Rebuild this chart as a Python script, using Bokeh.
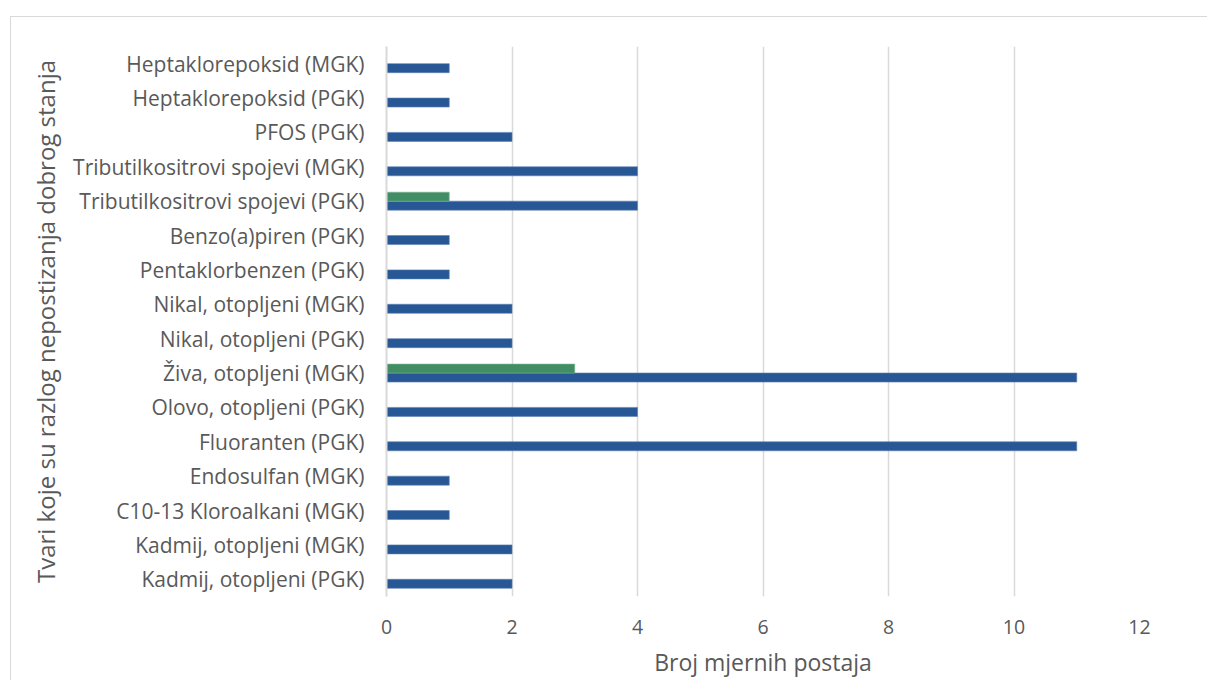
from bokeh.plotting import figure
from bokeh.models import FixedTicker, ColumnDataSource
from bokeh.transform import dodge
from bokeh.embed import file_html
from bokeh.resources import INLINE

categories = [
    "Kadmij, otopljeni (PGK)",
    "Kadmij, otopljeni (MGK)",
    "C10-13 Kloroalkani (MGK)",
    "Endosulfan (MGK)",
    "Fluoranten (PGK)",
    "Olovo, otopljeni (PGK)",
    "Živa, otopljeni (MGK)",
    "Nikal, otopljeni (PGK)",
    "Nikal, otopljeni (MGK)",
    "Pentaklorbenzen (PGK)",
    "Benzo(a)piren (PGK)",
    "Tributilkositrovi spojevi (PGK)",
    "Tributilkositrovi spojevi (MGK)",
    "PFOS (PGK)",
    "Heptaklorepoksid (PGK)",
    "Heptaklorepoksid (MGK)",
]
series_blue = [2, 2, 1, 1, 11, 4, 11, 2, 2, 1, 1, 4, 4, 2, 1, 1]
series_green = [0, 0, 0, 0, 0, 0, 3, 0, 0, 0, 0, 1, 0, 0, 0, 0]
x_ticks = [0, 2, 4, 6, 8, 10, 12]

FONT = "Open Sans"
TXT = "#595959"
GRID = "#D9D9D9"

src = ColumnDataSource(dict(cat=categories, blue=series_blue, green=series_green))

p = figure(
    frame_width=753, frame_height=550,
    y_range=categories, x_range=(0, 12),
    output_backend="svg", toolbar_location=None,
    min_border_left=375, min_border_right=68,
    min_border_top=29, min_border_bottom=60,
)
p.outline_line_color = None
p.background_fill_color = "white"
p.border_fill_color = "white"
p.styles = {
    "margin-left": "10px",
    "margin-top": "16px",
    "border-left": "1.5px solid #D9D9D9",
    "border-top": "1.5px solid #D9D9D9",
}

p.hbar(y=dodge("cat", -0.13, range=p.y_range), right="blue", left=0, height=0.262,
       source=src, fill_color="#285795", line_color="#5A7FB3", line_width=0.6)
p.hbar(y=dodge("cat", 0.13, range=p.y_range), right="green", left=0, height=0.262,
       source=src, fill_color="#418E64", line_color="#7BB396", line_width=0.6)

# grid
p.xgrid.grid_line_color = GRID
p.xgrid.grid_line_width = 1.5
p.ygrid.grid_line_color = None
p.xaxis.ticker = FixedTicker(ticks=x_ticks)

# x axis
p.xaxis.axis_line_color = None
p.xaxis.major_tick_line_color = None
p.xaxis.minor_tick_line_color = None
p.xaxis.major_tick_out = 0
p.xaxis.major_tick_in = 0
p.xaxis.major_label_text_font = FONT
p.xaxis.major_label_text_font_size = "19.5px"
p.xaxis.major_label_text_color = TXT
p.xaxis.major_label_standoff = 23
p.xaxis.axis_label = "Broj mjernih postaja"
p.xaxis.axis_label_text_font = FONT
p.xaxis.axis_label_text_font_size = "23px"
p.xaxis.axis_label_text_font_style = "normal"
p.xaxis.axis_label_text_color = TXT
p.xaxis.axis_label_standoff = 9

# y axis
p.yaxis.axis_line_color = GRID
p.yaxis.axis_line_width = 2
p.yaxis.major_tick_line_color = None
p.yaxis.minor_tick_line_color = None
p.yaxis.major_tick_out = 0
p.yaxis.major_tick_in = 0
p.yaxis.major_label_text_font = FONT
p.yaxis.major_label_text_font_size = "21px"
p.yaxis.major_label_text_color = TXT
p.yaxis.major_label_standoff = 22
p.yaxis.axis_label = "Tvari koje su razlog nepostizanja dobrog stanja"
p.yaxis.axis_label_text_font = FONT
p.yaxis.axis_label_text_font_size = "24px"
p.yaxis.axis_label_text_font_style = "normal"
p.yaxis.axis_label_text_color = TXT
p.yaxis.axis_label_standoff = 8

open("out.html", "w").write(file_html(p, INLINE))
